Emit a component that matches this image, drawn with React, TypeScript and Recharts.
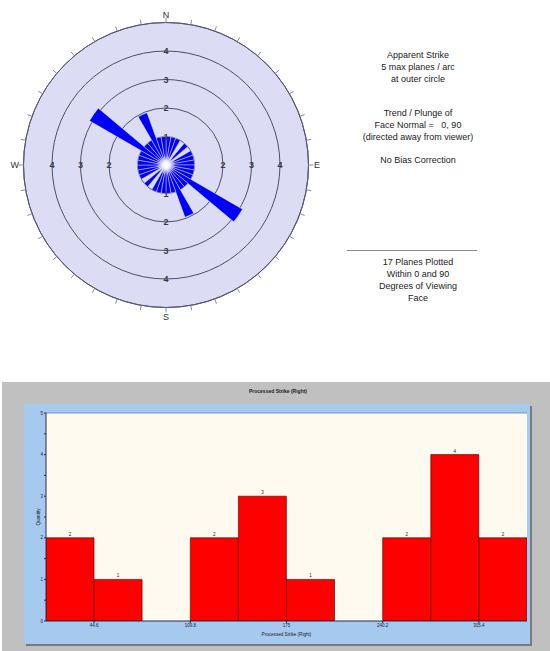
import React from 'react';
import {
  RadialBarChart,
  RadialBar,
  PolarAngleAxis,
  PolarRadiusAxis,
  PolarGrid,
  ComposedChart,
  Bar,
  XAxis,
  YAxis,
  LabelList,
  CartesianGrid,
  ReferenceLine,
} from 'recharts';

// ---------- Rose diagram data (10° bins, bearing of bin start) ----------
const roseBins = [0, 10, 20, 30, 40, 50, 60, 70, 80, 90, 100, 110, 120, 130, 140, 150, 160, 170,
  180, 190, 200, 210, 220, 230, 240, 250, 260, 270, 280, 290, 300, 310, 320, 330, 340, 350];
const roseValues = [1, 1, 1, 0, 1, 0, 1, 1, 1, 1, 1, 1, 3.1, 1, 1, 1.95, 1, 1,
  1, 1, 1, 0, 1, 0, 1, 1, 1, 1, 1, 1, 3.1, 1, 1, 1.95, 1, 1];
const cardinalLabels: Record<number, string> = { 0: 'N', 90: 'E', 180: 'S', 270: 'W' };
const ringMax = 5;

// ---------- Histogram data ----------
const histMids = [28.3, 60.9, 93.5, 126.1, 158.7, 191.3, 223.9, 256.5, 289.1, 321.7];
const histCounts = [2, 1, 0, 2, 3, 1, 0, 2, 4, 2];
const histDomain: [number, number] = [12, 338];
const histTicks = [44.6, 109.8, 175, 240.2, 305.4];
const yTicks = [0, 0.5, 1, 1.5, 2, 2.5, 3, 3.5, 4, 4.5, 5];

const roseData = roseBins.map((b, i) => ({ bin: b, v: roseValues[i] }));
const histData = histMids.map((m, i) => ({ mid: m, count: histCounts[i] }));

const FONT = '"Liberation Sans", Arial, sans-serif';
const CX = 166;
const CY = 165;
const OUTER_R = 142.5;

const AngleTick = (props: any) => {
  const { x, y, payload } = props;
  const bearing = Math.round((((90 - payload.coordinate) % 360) + 360) % 360) % 360;
  const lab = cardinalLabels[bearing];
  if (!lab) return <g />;
  let tx = x;
  let ty = y;
  let anchor: any = 'middle';
  if (bearing === 0) { ty = y + 0.5; }
  else if (bearing === 180) { ty = y + 7.5; }
  else if (bearing === 90) { anchor = 'start'; tx = x + 0.5; ty = y + 3.3; }
  else { anchor = 'end'; tx = x + 0.5; ty = y + 3.3; }
  return (
    <text x={tx} y={ty} textAnchor={anchor} fontSize={9} fontFamily={FONT} fill="#333">{lab}</text>
  );
};

const makeRingTick = (skip: number[]) => (props: any) => {
  const { x, y, payload } = props;
  if (skip.includes(payload.value)) return <g />;
  return (
    <text x={x} y={y} dy={3.2} textAnchor="middle" fontSize={9} fontWeight="bold" fontFamily={FONT} fill="#3a3a3a">
      {payload.value}
    </text>
  );
};
const RingTickNS = makeRingTick([0, 5]);
const RingTickEW = makeRingTick([0, 1, 5]);

const textLine: React.CSSProperties = {
  height: 12,
  lineHeight: '12px',
  whiteSpace: 'pre',
};

export default function App() {
  return (
    <div style={{ position: 'absolute', left: 0, top: 0, width: 550, height: 651, background: '#fff', fontFamily: FONT, overflow: 'hidden' }}>
      {/* Rose diagram background disk */}
      <div
        style={{
          position: 'absolute',
          left: CX - OUTER_R,
          top: CY - OUTER_R,
          width: OUTER_R * 2,
          height: OUTER_R * 2,
          borderRadius: '50%',
          background: '#dcdcf4',
        }}
      />
      <div style={{ position: 'absolute', left: 0, top: 0 }}>
        <RadialBarChart
          width={340}
          height={330}
          data={roseData}
          layout="centric"
          cx={CX}
          cy={CY}
          innerRadius={0}
          outerRadius={OUTER_R}
          startAngle={80}
          endAngle={-280}
          barCategoryGap={0}
          margin={{ top: 0, right: 0, bottom: 0, left: 0 }}
        >
          <defs>
            <radialGradient id="roseFill" gradientUnits="userSpaceOnUse" cx={CX} cy={CY} r={OUTER_R}>
              <stop offset="0" stopColor="#ffffff" />
              <stop offset="0.02" stopColor="#eef0ff" />
              <stop offset="0.07" stopColor="#0000ff" />
              <stop offset="1" stopColor="#0000ff" />
            </radialGradient>
          </defs>
          <PolarGrid gridType="circle" radialLines={false} stroke="#4e4e6e" strokeWidth={1} />
          <PolarAngleAxis
            dataKey="bin"
            type="category"
            axisLineType="circle"
            axisLine={{ stroke: '#55557a', strokeWidth: 1 }}
            tickLine={{ stroke: '#8a8aa0' }}
            tickSize={5}
            tick={AngleTick}
          />
          <RadialBar
            dataKey="v"
            fill="url(#roseFill)"
            stroke="#ffffff"
            strokeWidth={0.4}
            isAnimationActive={false}
          />
          <PolarRadiusAxis type="number" domain={[0, ringMax]} tickCount={6} angle={90} axisLine={false} tickLine={false} tick={RingTickNS} allowDataOverflow />
          <PolarRadiusAxis radiusAxisId="s" type="number" domain={[0, ringMax]} tickCount={6} angle={270} axisLine={false} tickLine={false} tick={RingTickNS} allowDataOverflow />
          <PolarRadiusAxis radiusAxisId="w" type="number" domain={[0, ringMax]} tickCount={6} angle={180} axisLine={false} tickLine={false} tick={RingTickEW} allowDataOverflow />
          <PolarRadiusAxis radiusAxisId="e" type="number" domain={[0, ringMax]} tickCount={6} angle={0} axisLine={false} tickLine={false} tick={RingTickEW} allowDataOverflow />
        </RadialBarChart>
      </div>

      {/* Right-hand text */}
      <div style={{ position: 'absolute', left: 318, top: 49, width: 200, textAlign: 'center', fontSize: 9, color: '#222' }}>
        <div style={textLine}>Apparent Strike</div>
        <div style={textLine}>5 max planes / arc</div>
        <div style={textLine}>at outer circle</div>
      </div>
      <div style={{ position: 'absolute', left: 318, top: 107, width: 200, textAlign: 'center', fontSize: 9, color: '#222' }}>
        <div style={textLine}>Trend / Plunge of</div>
        <div style={textLine}>{'Face Normal =   0, 90'}</div>
        <div style={textLine}>(directed away from viewer)</div>
      </div>
      <div style={{ position: 'absolute', left: 318, top: 154, width: 200, textAlign: 'center', fontSize: 9, color: '#222' }}>
        <div style={textLine}>No Bias Correction</div>
      </div>
      <div style={{ position: 'absolute', left: 347, top: 250, width: 130, height: 0, borderTop: '1px solid #8c8c8c' }} />
      <div style={{ position: 'absolute', left: 318, top: 256, width: 200, textAlign: 'center', fontSize: 9, color: '#222' }}>
        <div style={textLine}>17 Planes Plotted</div>
        <div style={textLine}>Within 0 and 90</div>
        <div style={textLine}>Degrees of Viewing</div>
        <div style={textLine}>Face</div>
      </div>

      {/* Histogram panel */}
      <div style={{ position: 'absolute', left: 2, top: 382, width: 548, height: 269, background: '#c0c0c0' }} />
      <div style={{ position: 'absolute', left: 228, top: 388, width: 100, textAlign: 'center', fontSize: 5, fontWeight: 'bold', color: '#222', lineHeight: '7px' }}>
        Processed Strike (Right)
      </div>
      <div style={{ position: 'absolute', left: 24, top: 404, width: 506, height: 240, background: '#a6c9f0', boxShadow: '2px 2px 0 #7a7a7a' }}>
        <ComposedChart
          width={506}
          height={240}
          data={histData}
          barCategoryGap={0}
          barGap={0}
          margin={{ top: 9, right: 3, left: 0, bottom: 0 }}
          style={{ fontFamily: FONT }}
        >
          <CartesianGrid horizontal={false} vertical={false} fill="#fffaf0" />
          <XAxis
            dataKey="mid"
            type="number"
            domain={histDomain}
            ticks={histTicks}
            allowDataOverflow
            height={23}
            tickSize={2}
            tickMargin={1}
            tick={{ fontSize: 4.5, fill: '#222' }}
            axisLine={{ stroke: '#2a2a4a' }}
            tickLine={{ stroke: '#2a2a4a' }}
            label={{ value: 'Processed Strike (Right)', position: 'insideBottom', offset: 8, fontSize: 4.6, fill: '#222' }}
          />
          <YAxis
            type="number"
            domain={[0, 5]}
            ticks={yTicks}
            allowDataOverflow
            width={22}
            tickSize={2}
            tickMargin={1}
            tickFormatter={(v: number) => (Number.isInteger(v) ? String(v) : '')}
            tick={{ fontSize: 4.5, fill: '#222' }}
            axisLine={{ stroke: '#2a2a4a' }}
            tickLine={{ stroke: '#2a2a4a' }}
            label={{ value: 'Quantity', angle: -90, position: 'insideLeft', offset: 14.5, fontSize: 4.6, fill: '#222', style: { textAnchor: 'middle' } }}
          />
          <ReferenceLine y={5} stroke="#5d7fae" strokeWidth={0.8} />
          <Bar dataKey="count" fill="#ff0000" stroke="#3a0000" strokeWidth={0.6} isAnimationActive={false}>
            <LabelList
              dataKey="count"
              position="top"
              offset={2}
              fontSize={4.5}
              fill="#222"
              formatter={(v: any) => (v ? v : '')}
            />
          </Bar>
        </ComposedChart>
      </div>
    </div>
  );
}
